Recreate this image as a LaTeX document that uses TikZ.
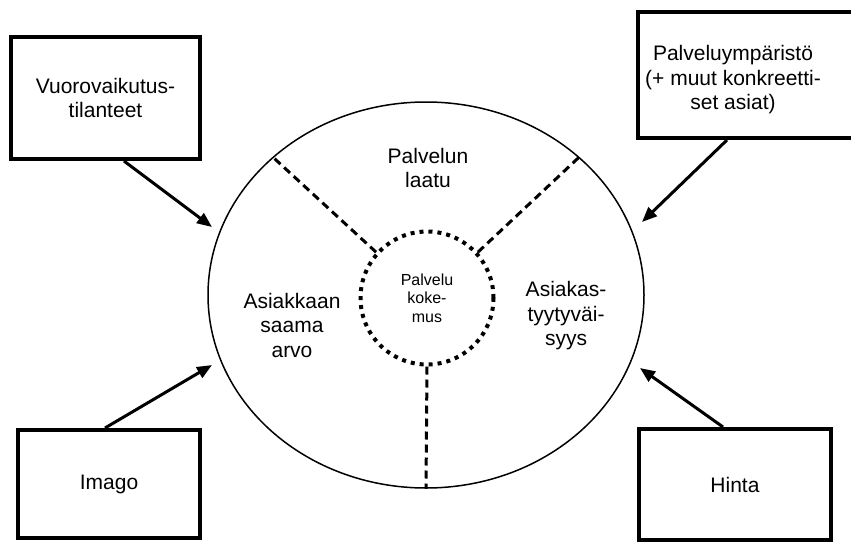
\documentclass[tikz,border=0pt]{standalone}
\usepackage{fontspec}
\setmainfont{Liberation Sans}
\usetikzlibrary{arrows.meta,shapes.geometric}

\begin{document}
\begin{tikzpicture}[x=1pt,y=-1pt,
  factor/.style={shape=rectangle,draw,line width=4pt,align=center,font=\fontsize{21}{24.5}\selectfont},
  areatext/.style={align=center,font=\fontsize{21}{24.5}\selectfont},
  sector/.style={line width=3pt,dash pattern=on 8pt off 5pt},
  influence/.style={-{Triangle[length=15pt,width=12pt]},line width=3pt}]
\useasboundingbox (0,0) rectangle (851,544);
\clip (0,0) rectangle (851,544);
% the experience and its core
\path (426,295) node (exp) [shape=ellipse,minimum width=436pt,minimum height=386pt,draw,line width=1.5pt] {};
\path (427,298) node (core) [shape=circle,minimum size=133pt,draw,line width=4pt,dash pattern=on 4pt off 5pt,align=center,font=\fontsize{16}{18.5}\selectfont] {Palvelu\\koke-\\mus};

\draw [sector] (core.138) to (exp.138);
\draw [sector] (core.42) to (exp.42);
\draw [sector] (core.south) to (exp.south);

\path (428,168) node (quality) [areatext] {Palvelun\\laatu};
\path (292,325) node (value) [areatext] {Asiakkaan\\saama\\arvo};
\path (566,316) node (satisfaction) [areatext] {Asiakas-\\tyytyväi-\\syys};

% outside factors
\path (105.5,98) node (contacts) [factor,minimum width=189pt,minimum height=122pt] {Vuorovaikutus-\\tilanteet};
\path (754,75) node (envbox) [factor,minimum width=232pt,minimum height=126pt] {};
\path (733,80) node (environment) [areatext] {Palveluympäristö\\(+ muut konkreetti-\\set asiat)};
\path (109,484) node (image) [factor,minimum width=182pt,minimum height=108pt] {Imago};
\path (735,484.5) node (price) [factor,minimum width=192pt,minimum height=111pt] {Hinta};

\coordinate (tipa) at (212,227);
\coordinate (tipb) at (642,222);
\coordinate (tipc) at (212,365);
\coordinate (tipd) at (640,368);

\draw [influence] ([xshift=18.5pt]contacts.south) to (tipa);
\draw [influence] ([xshift=-27pt]envbox.south) to (tipb);
\draw [influence] ([xshift=-4pt]image.north) to (tipc);
\draw [influence] ([xshift=-12pt]price.north) to (tipd);
\end{tikzpicture}
\end{document}
